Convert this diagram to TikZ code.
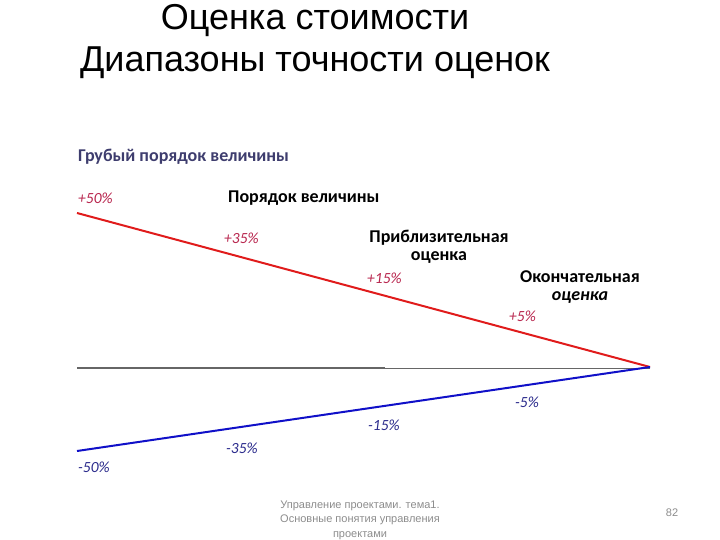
\documentclass[tikz,border=0pt]{standalone}
\usepackage{fontspec}
\setmainfont{Carlito}
\newfontfamily\titlefont{Liberation Sans}
\usetikzlibrary{positioning}
\definecolor{PlusRed}{HTML}{B8264E}
\definecolor{MinusBlue}{HTML}{2B2B8C}
\definecolor{HeadSlate}{HTML}{3E3D6E}
\definecolor{LineRed}{HTML}{E01B1B}
\definecolor{LineBlue}{HTML}{1010C8}
\definecolor{FootGray}{HTML}{8C8C8C}
\tikzset{
  titletext/.style={font=\titlefont\fontsize{36}{42}\selectfont, align=center},
  stagetext/.style={font=\bfseries\fontsize{18}{18}\selectfont, align=center},
  plustext/.style={font=\itshape\fontsize{15.5}{18}\selectfont, text=PlusRed, anchor=west, inner sep=0pt},
  minustext/.style={font=\itshape\fontsize{15.5}{18}\selectfont, text=MinusBlue, anchor=west, inner sep=0pt},
  footnote/.style={font=\titlefont\fontsize{11}{14.5}\selectfont, text=FootGray, align=center},
  upperline/.style={draw=LineRed, line width=2pt},
  lowerline/.style={draw=LineBlue, line width=2pt},
  baseline/.style={draw=black!60, line width=1.2pt}
}
\begin{document}
\begin{tikzpicture}[x=1pt,y=-1pt]
  \useasboundingbox (0,0) rectangle (720,540);

  \node[titletext] (title) at (315,42) {Оценка стоимости\\Диапазоны точности оценок};

  \coordinate (apex) at (650,367);
  \coordinate (topstart) at (77,213);
  \coordinate (botstart) at (77,451);
  \coordinate (midstart) at (77,368);
  \coordinate (midbreak) at (385,368);
  \coordinate (midend) at (650,368);

  \draw[baseline] (midstart) -- (midbreak);
  \draw[baseline,line width=0.8pt] (midbreak) -- (midend);
  \draw[upperline] (topstart) -- (apex);
  \draw[lowerline] (botstart) -- (apex);

  \node[stagetext, text=HeadSlate, anchor=west, inner sep=0pt] (rough) at (78,157) {Грубый порядок величины};
  \node[stagetext, anchor=west, inner sep=0pt] (order) at (228,198) {Порядок величины};
  \node[stagetext] (approx) at (439,247) {Приблизительная\\оценка};
  \node[stagetext] (final) at (580,287) {Окончательная\\\textit{оценка}};

  \node[plustext] (p50) at (78,198) {+50\%};
  \node[plustext] (p35) at (224,238) {+35\%};
  \node[plustext] (p15) at (367,278) {+15\%};
  \node[plustext] (p5) at (509,316) {+5\%};

  \node[minustext] (m5) at (515,402) {-5\%};
  \node[minustext] (m15) at (368,425) {-15\%};
  \node[minustext] (m35) at (226,448) {-35\%};
  \node[minustext] (m50) at (78,467) {-50\%};

  \node[footnote] (foot) at (360,520) {Управление проектами. тема1.\\Основные понятия управления\\проектами};
  \node[footnote] (page) at (672,513) {82};
\end{tikzpicture}
\end{document}
